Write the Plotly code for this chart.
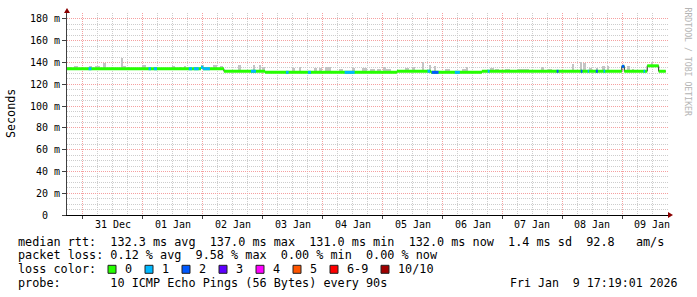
import plotly.graph_objects as go
import pandas as pd

# ---------------- data ----------------
X_START = "2025-12-30 17:43"
X_END = "2026-01-09 18:14"
DATA_END = "2026-01-09 17:20"

day_ticks = ["2025-12-31", "2026-01-01", "2026-01-02", "2026-01-03", "2026-01-04",
             "2026-01-05", "2026-01-06", "2026-01-07", "2026-01-08", "2026-01-09"]
label_ticks = ["2025-12-31 12:00", "2026-01-01 12:00", "2026-01-02 12:00", "2026-01-03 12:00",
               "2026-01-04 12:00", "2026-01-05 12:00", "2026-01-06 12:00", "2026-01-07 12:00",
               "2026-01-08 12:00", "2026-01-09 12:00"]
day_labels = ["31 Dec", "01 Jan", "02 Jan", "03 Jan", "04 Jan",
              "05 Jan", "06 Jan", "07 Jan", "08 Jan", "09 Jan"]

y_ticks = [0, 20, 40, 60, 80, 100, 120, 140, 160, 180]
y_tick_labels = ["0\u00a0\u00a0", "20 m", "40 m", "60 m", "80 m", "100 m",
                 "120 m", "140 m", "160 m", "180 m"]

# median rtt (ms), step function: value holds from med_time[i] to med_time[i+1]
med_time = ["2025-12-30 17:40", "2026-01-01 23:20", "2026-01-02 00:10", "2026-01-02 08:30",
            "2026-01-03 01:00", "2026-01-05 05:45", "2026-01-05 19:20", "2026-01-06 15:45",
            "2026-01-08 23:45", "2026-01-09 00:45", "2026-01-09 09:55", "2026-01-09 14:30"]
med_value = [134.3, 135.6, 134.3, 132.0, 131.0, 132.0, 131.0, 132.0, 136.5, 132.0, 137.0, 132.0]

# packet loss periods (number of lost pings out of 10)
loss_start = ["2025-12-31 02:20", "2026-01-01 02:20", "2026-01-01 04:30", "2026-01-01 18:25",
              "2026-01-01 20:30", "2026-01-01 23:20", "2026-01-02 00:10", "2026-01-02 19:20",
              "2026-01-03 09:20", "2026-01-03 18:05", "2026-01-04 08:50", "2026-01-05 18:00",
              "2026-01-05 19:40", "2026-01-06 04:55", "2026-01-06 18:05", "2026-01-07 21:40",
              "2026-01-08 07:20", "2026-01-08 10:05", "2026-01-08 13:20", "2026-01-08 16:25",
              "2026-01-08 23:45", "2026-01-09 08:25"]
loss_end = ["2025-12-31 03:30", "2026-01-01 03:20", "2026-01-01 05:45", "2026-01-01 19:45",
            "2026-01-01 22:25", "2026-01-02 00:10", "2026-01-02 02:55", "2026-01-02 21:20",
            "2026-01-03 10:25", "2026-01-03 19:20", "2026-01-04 12:50", "2026-01-05 19:00",
            "2026-01-05 22:25", "2026-01-06 06:55", "2026-01-06 18:50", "2026-01-07 22:25",
            "2026-01-08 08:00", "2026-01-08 10:40", "2026-01-08 14:10", "2026-01-08 17:05",
            "2026-01-09 00:45", "2026-01-09 09:05"]
loss_count = [1, 1, 1, 1, 1, 1, 1, 1, 1, 1, 1, 1, 2, 1, 1, 2, 2, 1, 2, 1, 2, 1]

# smoke (spread of the individual pings): top of the grey band, ms
smoke_start = ["2025-12-30 18:07", "2025-12-30 20:31", "2025-12-31 02:31", "2025-12-31 04:55",
               "2025-12-31 08:07", "2025-12-31 15:26", "2025-12-31 16:19", "2025-12-31 17:43",
               "2025-12-31 23:43", "2026-01-01 11:43", "2026-01-01 14:31", "2026-01-01 16:31",
               "2026-01-01 23:31", "2026-01-02 04:07", "2026-01-02 06:55", "2026-01-02 14:07",
               "2026-01-02 20:24", "2026-01-02 22:24", "2026-01-02 23:43", "2026-01-03 11:43",
               "2026-01-03 14:24", "2026-01-03 20:24", "2026-01-03 22:24", "2026-01-04 01:02",
               "2026-01-04 06:24", "2026-01-04 11:43", "2026-01-04 15:43", "2026-01-04 18:55",
               "2026-01-04 21:43", "2026-01-05 00:00", "2026-01-05 01:19", "2026-01-05 09:02",
               "2026-01-05 11:43", "2026-01-05 15:43", "2026-01-05 18:24", "2026-01-05 20:24",
               "2026-01-06 01:02", "2026-01-06 07:43", "2026-01-06 09:19", "2026-01-06 19:02",
               "2026-01-06 20:55", "2026-01-07 00:55", "2026-01-07 05:43", "2026-01-07 15:26",
               "2026-01-07 18:07", "2026-01-08 03:43", "2026-01-08 07:02", "2026-01-08 08:24",
               "2026-01-08 10:38", "2026-01-08 13:19", "2026-01-08 15:43", "2026-01-08 17:43",
               "2026-01-09 01:43", "2026-01-09 03:43", "2026-01-09 11:43"]
smoke_end = ["2025-12-30 19:43", "2025-12-30 22:07", "2025-12-31 03:43", "2025-12-31 06:55",
             "2025-12-31 09:19", "2025-12-31 16:00", "2025-12-31 17:19", "2025-12-31 18:55",
             "2026-01-01 01:19", "2026-01-01 12:55", "2026-01-01 15:43", "2026-01-01 17:19",
             "2026-01-02 00:31", "2026-01-02 05:43", "2026-01-02 08:07", "2026-01-02 15:19",
             "2026-01-02 21:07", "2026-01-02 23:19", "2026-01-03 00:55", "2026-01-03 12:55",
             "2026-01-03 15:26", "2026-01-03 21:43", "2026-01-03 23:43", "2026-01-04 03:26",
             "2026-01-04 08:00", "2026-01-04 12:55", "2026-01-04 17:43", "2026-01-04 20:55",
             "2026-01-04 23:19", "2026-01-05 01:19", "2026-01-05 03:19", "2026-01-05 10:24",
             "2026-01-05 12:55", "2026-01-05 16:38", "2026-01-05 19:26", "2026-01-05 21:19",
             "2026-01-06 03:02", "2026-01-06 09:43", "2026-01-06 10:07", "2026-01-06 20:24",
             "2026-01-06 22:31", "2026-01-07 02:55", "2026-01-07 10:31", "2026-01-07 16:48",
             "2026-01-07 19:43", "2026-01-08 04:38", "2026-01-08 08:00", "2026-01-08 09:19",
             "2026-01-08 11:43", "2026-01-08 14:19", "2026-01-08 17:02", "2026-01-08 18:38",
             "2026-01-09 03:02", "2026-01-09 04:48", "2026-01-09 12:19"]
smoke_top = [136.2, 136.8, 136.8, 137.0, 139.2, 144.3, 136.5, 136.2, 137.7, 137.0,
             136.2, 136.5, 137.5, 137.5, 136.8, 137.7, 137.7, 137.7, 136.0, 135.3,
             135.6, 134.7, 134.7, 135.9, 134.2, 134.7, 134.7, 134.2, 134.2, 135.9,
             134.2, 134.8, 136.0, 140.8, 137.7, 136.8, 134.2, 134.2, 136.3, 135.0,
             134.2, 134.5, 134.2, 136.3, 134.5, 138.7, 140.2, 139.3, 135.0, 135.0,
             136.8, 136.8, 136.8, 134.2, 140.8]

loss_colors = {0: "#26ff00", 1: "#00b8ff", 2: "#0059ff", 3: "#5e00ff",
               4: "#ff00ff", 5: "#ff5500", 6: "#ff0000", 10: "#a00000"}
legend_keys = [0, 1, 2, 3, 4, 5, 6, 10]
legend_names = ["0", "1", "2", "3", "4", "5", "6-9", "10/10"]

legend_line1 = "median rtt:  132.3 ms avg  137.0 ms max  131.0 ms min  132.0 ms now  1.4 ms sd  92.8   am/s"
legend_line2 = "packet loss: 0.12 % avg  9.58 % max  0.00 % min  0.00 % now"
legend_line3 = "loss color:"
legend_line4 = "probe:       10 ICMP Echo Pings (56 Bytes) every 90s"
stamp = "Fri Jan  9 17:19:01 2026"
watermark = "RRDTOOL / TOBI OETIKER"

# ---------------- helpers ----------------
MONO = "DejaVu Sans Mono"
T = pd.to_datetime
med_t = list(T(med_time))


def median_at(t):
    t = T(t)
    v = med_value[0]
    for mt, mv in zip(med_t, med_value):
        if mt <= t:
            v = mv
    return v


def nb(s):
    return s.replace(" ", "\u00a0")


# plot-area pixel geometry (for decorations)
L, R, TOP, BOT = 67, 668, 13, 215


def px_x(px):
    return (px - L) / (R - L)


def px_y(py):
    return (BOT - py) / (BOT - TOP)


# minor grid positions (6-hourly / every 5 ms, skipping the major lines)
minor_x = [d + pd.Timedelta(hours=h) for d in pd.date_range("2025-12-30", "2026-01-09")
           for h in (6, 12, 18)]
minor_y = [v for v in range(5, 186, 5) if v % 20]

fig = go.Figure()

# smoke
s0 = T(smoke_start)
s1 = T(smoke_end)
mids = [a + (b - a) / 2 for a, b in zip(s0, s1)]
widths = [(b - a).total_seconds() * 1000 for a, b in zip(s0, s1)]
lows = [median_at(m) - 1.0 for m in mids]
fig.add_trace(go.Bar(x=mids, base=lows, y=[t - l for t, l in zip(smoke_top, lows)],
                     width=widths, marker=dict(color="#c4c4c4", line=dict(width=0)),
                     hoverinfo="skip"))

# thin dark median line (visible at steps)
mx = med_time + [DATA_END]
my = med_value + [med_value[-1]]
fig.add_trace(go.Scatter(x=mx, y=my, mode="lines", line=dict(color="#202020", width=1, shape="hv"),
                         hoverinfo="skip"))

# thick green horizontal segments (0 loss)
gx, gy = [], []
for i in range(len(med_time)):
    gx += [mx[i], mx[i + 1], None]
    gy += [med_value[i], med_value[i], None]
fig.add_trace(go.Scatter(x=gx, y=gy, mode="lines", line=dict(color=loss_colors[0], width=3),
                         hoverinfo="skip"))

# loss-coloured segments
for k in sorted(set(loss_count)):
    lx, ly = [], []
    for a, b, c in zip(loss_start, loss_end, loss_count):
        if c == k:
            v = median_at(a)
            lx += [a, b, None]
            ly += [v, v, None]
    fig.add_trace(go.Scatter(x=lx, y=ly, mode="lines", line=dict(color=loss_colors[k], width=3),
                             hoverinfo="skip"))

RED_GRID = "rgb(245,160,160)"
GREY_GRID = "rgb(205,205,205)"
DOT = "1px,1px"

fig.update_layout(
    width=697, height=297,
    margin=dict(l=L, r=697 - R, t=TOP, b=297 - BOT),
    paper_bgcolor="white", plot_bgcolor="white",
    showlegend=False, bargap=0,
    xaxis=dict(type="date", range=[X_START, X_END], tickmode="array",
               tickvals=day_ticks, ticktext=[""] * len(day_ticks),
               showgrid=True, gridcolor=RED_GRID, griddash=DOT, gridwidth=1,
               ticks="outside", ticklen=3, tickcolor="#404040", tickwidth=1,
               showline=True, linecolor="black", linewidth=1, zeroline=False,
               minor=dict(tickmode="array", tickvals=minor_x, showgrid=True,
                          gridcolor=GREY_GRID, griddash=DOT, gridwidth=1, ticks=""),
               fixedrange=True, layer="below traces"),
    yaxis=dict(range=[0, 185.5], tickmode="array", tickvals=y_ticks, ticktext=y_tick_labels,
               showgrid=True, gridcolor=RED_GRID, griddash=DOT, gridwidth=1,
               ticks="outside", ticklen=4, tickcolor="#404040", tickwidth=1,
               showline=True, linecolor="#404040", linewidth=1, zeroline=False,
               minor=dict(tickmode="array", tickvals=minor_y, showgrid=True, gridcolor=GREY_GRID,
                          griddash=DOT, gridwidth=1, ticks=""),
               tickfont=dict(family=MONO, size=10, color="black"), fixedrange=True),
    font=dict(family=MONO, color="black"),
)

ann = []
# day labels (centred at noon)
for tv, tl in zip(label_ticks, day_labels):
    ann.append(dict(text=nb(tl), x=tv, xref="x", y=0, yref="paper", yshift=-(224.5 - BOT),
                    showarrow=False, xanchor="center", yanchor="middle",
                    font=dict(family=MONO, size=10, color="black")))
# y title
ann.append(dict(text="Seconds", x=0, xref="paper", xshift=11 - L, y=0.5, yref="paper",
                textangle=-90, showarrow=False, xanchor="center", yanchor="middle",
                font=dict(family=MONO, size=11.7, color="black")))
# watermark
ann.append(dict(text=nb(watermark), x=1, xref="paper", xshift=688 - R, y=1, yref="paper",
                yshift=TOP - 5, textangle=90, showarrow=False, xanchor="center", yanchor="top",
                font=dict(family=MONO, size=8.2, color="#b4b4b4")))
# legend lines
FS = 11.8
for txt, yc in [(legend_line1, 241.7), (legend_line2, 255.3), (legend_line3, 269.3),
                (legend_line4, 282.7)]:
    ann.append(dict(text=nb(txt), x=0, xref="paper", xshift=16 - L, y=0, yref="paper",
                    yshift=-(yc - BOT), showarrow=False, xanchor="left", yanchor="middle",
                    font=dict(family=MONO, size=FS, color="black")))
ann.append(dict(text=nb(stamp), x=1, xref="paper", xshift=680 - R, y=0, yref="paper",
                yshift=-(282.7 - BOT), showarrow=False, xanchor="right", yanchor="middle",
                font=dict(family=MONO, size=11.6, color="black")))

shapes = []
box_px = [108, 145, 182, 219, 256, 293, 330, 381]
for bx, key, name in zip(box_px, legend_keys, legend_names):
    shapes.append(dict(type="rect", xref="paper", yref="paper",
                       x0=px_x(bx), x1=px_x(bx + 8), y0=px_y(273.3), y1=px_y(265.3),
                       fillcolor=loss_colors[key], line=dict(color="#202020", width=1)))
    ann.append(dict(text=nb(name), x=0, xref="paper", xshift=bx + 15 - L, y=0, yref="paper",
                    yshift=-(269.3 - BOT), showarrow=False, xanchor="left", yanchor="middle",
                    font=dict(family=MONO, size=FS, color="black")))

# axis arrow heads
ARROW = "#8b0000"
shapes.append(dict(type="path", xref="paper", yref="paper",
                   path=f"M {px_x(64)},{px_y(13)} L {px_x(70)},{px_y(13)} L {px_x(67)},{px_y(8)} Z",
                   fillcolor=ARROW, line=dict(color=ARROW, width=0)))
shapes.append(dict(type="path", xref="paper", yref="paper",
                   path=f"M {px_x(668)},{px_y(212)} L {px_x(668)},{px_y(218)} L {px_x(673)},{px_y(215)} Z",
                   fillcolor=ARROW, line=dict(color=ARROW, width=0)))

fig.update_layout(annotations=ann, shapes=shapes)
fig.write_html("out.html")
